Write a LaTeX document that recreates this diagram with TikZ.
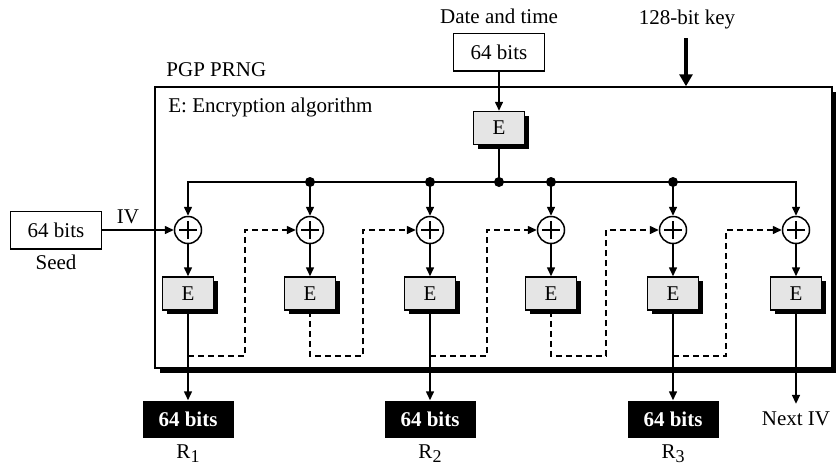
\documentclass[tikz,border=0pt]{standalone}
\usepackage{fontspec}
\setmainfont{Liberation Serif}
\usetikzlibrary{arrows.meta,shadows,calc}
\begin{document}
\begin{tikzpicture}[x=0.5pt,y=-0.5pt,
  font=\fontsize{10.5}{12}\selectfont, line width=0.75pt,
  >={Triangle[length=4.5pt,width=4pt]},
  ebox/.style={draw, fill=gray!20, minimum width=25.5pt, minimum height=16.5pt, inner sep=0pt,
    drop shadow={shadow xshift=2pt,shadow yshift=-2pt,fill=black,opacity=1}},
  wbox/.style={draw, fill=white, minimum width=45.5pt, minimum height=18.75pt, inner sep=0pt},
  bbox/.style={fill=black, text=white, font=\fontsize{10.5}{12}\selectfont\bfseries, minimum width=45.5pt, minimum height=18.5pt, inner sep=0pt},
  xorn/.style={draw, circle, minimum size=13.5pt, inner sep=0pt, fill=white,
    path picture={\draw[line width=0.7pt] (path picture bounding box.center) ++(-4.5pt,0) -- ++(9pt,0)
      (path picture bounding box.center) ++(0,-4.5pt) -- ++(0,9pt);}},
  dline/.style={dash pattern=on 3pt off 2pt},
  dotc/.style={radius=2.5pt}]
\useasboundingbox (0,0) rectangle (836,467);

% outer box
\node[draw, fill=white, minimum width=338.5pt, minimum height=140.5pt, inner sep=0pt,
  drop shadow={shadow xshift=2.5pt,shadow yshift=-2.5pt,fill=black,opacity=1}] (prng) at (493.5,227.5) {};
\node[anchor=base west] (t1) at (159,76) {PGP PRNG};
\node[anchor=base west] (t2) at (161,112) {E: Encryption algorithm};

% top inputs
\node[anchor=base] (dtl) at (499,23) {Date and time};
\node[wbox] (date) at (499,52) {64 bits};
\node[ebox] (e0) at (499,128) {E};
\node[anchor=base] (keyl) at (687,24) {128-bit key};
\coordinate (k0) at (686,38);
\draw[line width=2pt,-{Triangle[length=6pt,width=6.5pt]}] (k0) -- (k0 |- prng.north);
\draw[->] (date) -- (e0);

% seed
\node[wbox] (seed) at (56,230) {64 bits};
\node[anchor=base] (seedl) at (56,269) {Seed};
\node[anchor=base] (ivl) at (128,223) {IV};

% xors and E boxes
\foreach \i/\x in {1/188,2/310,3/430,4/551,5/673,6/796}{
  \node[xorn] (x\i) at (\x,230) {};
  \node[ebox] (e\i) at (\x,293.5) {E};
  \draw[->] (x\i) -- (e\i);
}
\draw[->] (seed) -- (x1);

% bus
\coordinate (j0) at (499,182);
\coordinate (j2) at (310,182);
\coordinate (j3) at (430,182);
\coordinate (j4) at (551,182);
\coordinate (j5) at (673,182);
\draw (e0) -- (j0);
\draw[->] (j0) -| (x1);
\draw[->] (j0) -| (x6);
\draw[->] (j2) -- (x2);
\draw[->] (j3) -- (x3);
\draw[->] (j4) -- (x4);
\draw[->] (j5) -- (x5);
\foreach \j in {j0,j2,j3,j4,j5}{\fill (\j) circle[dotc];}

% outputs
\node[bbox] (r1) at (188,419.5) {64 bits};
\node[bbox] (r2) at (430,419.5) {64 bits};
\node[bbox] (r3) at (673,419.5) {64 bits};
\node[anchor=base] (r1l) at (188,458) {R\raisebox{-0.45ex}{\fontsize{9}{10}\selectfont 1}};
\node[anchor=base] (r2l) at (430,458) {R\raisebox{-0.45ex}{\fontsize{9}{10}\selectfont 2}};
\node[anchor=base] (r3l) at (673,458) {R\raisebox{-0.45ex}{\fontsize{9}{10}\selectfont 3}};
\node[anchor=base] (niv) at (796,425) {Next IV};
\draw[->] (e1) -- (r1);
\draw[->] (e3) -- (r2);
\draw[->] (e5) -- (r3);
\draw[->] (e6) -- (niv);

% dashed feedback
\coordinate (d1) at (188,356); \coordinate (k1) at (245,356);
\coordinate (k2) at (363,356);
\coordinate (d3) at (430,356); \coordinate (k3) at (487,356);
\coordinate (k4) at (606,356);
\coordinate (d5) at (673,356); \coordinate (k5) at (726,356);
\draw[dline,->] (d1) -- (k1) |- (x2);
\draw[dline,->] (e2) |- (k2) |- (x3);
\draw[dline,->] (d3) -- (k3) |- (x4);
\draw[dline,->] (e4) |- (k4) |- (x5);
\draw[dline,->] (d5) -- (k5) |- (x6);
\end{tikzpicture}
\end{document}
